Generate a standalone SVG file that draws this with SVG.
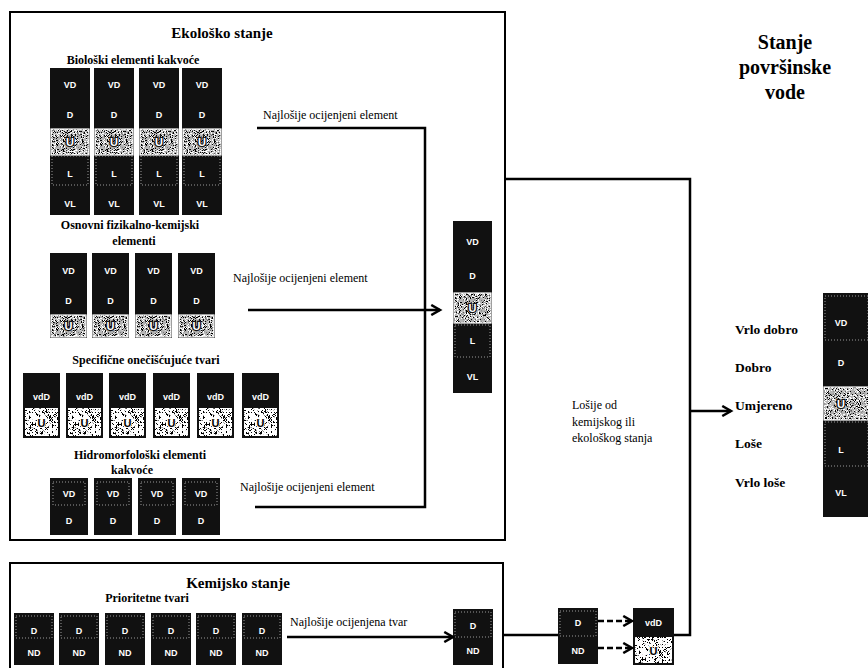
<svg xmlns="http://www.w3.org/2000/svg" width="868" height="668" viewBox="0 0 868 668">
<style>
.col{fill:#111}
.ct{font-family:"Liberation Sans",Arial,sans-serif;font-weight:bold;font-size:9px;fill:#fff;text-anchor:middle}
.ut{font-family:"Liberation Sans",Arial,sans-serif;font-weight:bold;font-size:11px;fill:#fff;stroke:#111;stroke-width:2.5;paint-order:stroke;text-anchor:middle}
.uk{font-family:"Liberation Sans",Arial,sans-serif;font-weight:bold;font-size:11px;fill:#000;stroke:#fff;stroke-width:2;paint-order:stroke;text-anchor:middle}
.h{font-family:"Liberation Serif","Times New Roman",serif;font-weight:bold;text-anchor:middle;fill:#000}
.lbl{font-family:"Liberation Serif","Times New Roman",serif;font-size:12px;fill:#000}
.bl{font-family:"Liberation Serif","Times New Roman",serif;font-weight:bold;font-size:13.5px;fill:#000}
.ln{stroke:#000;stroke-width:2.5;fill:none}
.dl{stroke:#000;stroke-width:2.5;fill:none;stroke-dasharray:6 3}
.box{stroke:#000;stroke-width:2;fill:none}
.gr{fill:#b4b4b4;filter:url(#grain)}
.sq{fill:#fff;filter:url(#squig)}
.ub{fill:none;stroke:#fff;stroke-width:1.2}
.dot{fill:none;stroke:#9a9a9a;stroke-width:1;stroke-dasharray:1 2}
</style>
<defs>
<filter id="grain" x="0" y="0" width="1" height="1">
<feTurbulence type="fractalNoise" baseFrequency="1.1" numOctaves="1" seed="4" result="t"/>
<feColorMatrix in="t" type="matrix" values="0 0 0 0 0 0 0 0 0 0 0 0 0 0 0 -18 0 0 0 8.6" result="d"/>
<feComposite in="d" in2="SourceGraphic" operator="in" result="d2"/>
<feTurbulence type="fractalNoise" baseFrequency="1.1" numOctaves="1" seed="11" result="t2"/>
<feColorMatrix in="t2" type="matrix" values="0 0 0 0 1 0 0 0 0 1 0 0 0 0 1 -18 0 0 0 8.2" result="w"/>
<feComposite in="w" in2="SourceGraphic" operator="in" result="w2"/>
<feMerge><feMergeNode in="SourceGraphic"/><feMergeNode in="d2"/><feMergeNode in="w2"/></feMerge>
</filter>
<filter id="squig" x="0" y="0" width="1" height="1">
<feTurbulence type="turbulence" baseFrequency="0.3" numOctaves="2" seed="7" result="t"/>
<feColorMatrix in="t" type="matrix" values="0 0 0 0 0 0 0 0 0 0 0 0 0 0 0 -30 0 0 0 4" result="d"/>
<feComposite in="d" in2="SourceGraphic" operator="in" result="d2"/>
<feMerge><feMergeNode in="SourceGraphic"/><feMergeNode in="d2"/></feMerge>
</filter>
<marker id="ah" viewBox="0 0 10 10" refX="8" refY="5" markerWidth="5" markerHeight="5" orient="auto" markerUnits="strokeWidth">
<path d="M1,1 L8,5 L1,9" fill="none" stroke="#000" stroke-width="2"/>
</marker>
</defs>
<rect width="868" height="668" fill="#fff"/>

<g id="eco-box">
<rect class="box" x="10" y="12" width="495" height="528"/>
<text class="h" x="222" y="38" font-size="15">Ekološko stanje</text>
<text class="h" x="133" y="64" font-size="12">Biološki elementi kakvoće</text>
<text class="h" x="130" y="229" font-size="12">Osnovni fizikalno-kemijski</text>
<text class="h" x="134" y="245" font-size="12">elementi</text>
<text class="h" x="146" y="364" font-size="12">Specifične onečišćujuće tvari</text>
<text class="h" x="140" y="459" font-size="12">Hidromorfološki elementi</text>
<text class="h" x="132" y="474" font-size="12">kakvoće</text>
</g>

<g id="bio1" transform="translate(50,68)">
<rect class="col" x="0" y="0" width="40" height="147"/>
<rect class="gr" x="1" y="61" width="38" height="26"/><rect class="ub" x="1" y="61" width="38" height="26"/>
<rect class="dot" x="2" y="88" width="36" height="29"/>
<text class="ct" x="20" y="20">VD</text><text class="ct" x="20" y="50">D</text><text class="ut" x="20" y="78">U</text><text class="ct" x="20" y="109">L</text><text class="ct" x="20" y="139">VL</text>
</g>
<g id="bio2" transform="translate(94,68)">
<rect class="col" x="0" y="0" width="40" height="147"/>
<rect class="gr" x="1" y="61" width="38" height="26"/><rect class="ub" x="1" y="61" width="38" height="26"/>
<rect class="dot" x="2" y="88" width="36" height="29"/>
<text class="ct" x="20" y="20">VD</text><text class="ct" x="20" y="50">D</text><text class="ut" x="20" y="78">U</text><text class="ct" x="20" y="109">L</text><text class="ct" x="20" y="139">VL</text>
</g>
<g id="bio3" transform="translate(139,68)">
<rect class="col" x="0" y="0" width="40" height="147"/>
<rect class="gr" x="1" y="61" width="38" height="26"/><rect class="ub" x="1" y="61" width="38" height="26"/>
<rect class="dot" x="2" y="88" width="36" height="29"/>
<text class="ct" x="20" y="20">VD</text><text class="ct" x="20" y="50">D</text><text class="ut" x="20" y="78">U</text><text class="ct" x="20" y="109">L</text><text class="ct" x="20" y="139">VL</text>
</g>
<g id="bio4" transform="translate(182,68)">
<rect class="col" x="0" y="0" width="40" height="147"/>
<rect class="gr" x="1" y="61" width="38" height="26"/><rect class="ub" x="1" y="61" width="38" height="26"/>
<rect class="dot" x="2" y="88" width="36" height="29"/>
<text class="ct" x="20" y="20">VD</text><text class="ct" x="20" y="50">D</text><text class="ut" x="20" y="78">U</text><text class="ct" x="20" y="109">L</text><text class="ct" x="20" y="139">VL</text>
</g>

<g id="phys1" transform="translate(50,253)">
<rect class="col" x="0" y="0" width="37" height="85"/>
<rect class="gr" x="1" y="62" width="35" height="22"/><rect class="ub" x="1" y="62" width="35" height="22"/>
<text class="ct" x="18.5" y="21">VD</text><text class="ct" x="18.5" y="51">D</text><text class="ut" x="18.5" y="77">U</text>
</g>
<g id="phys2" transform="translate(92,253)">
<rect class="col" x="0" y="0" width="37" height="85"/>
<rect class="gr" x="1" y="62" width="35" height="22"/><rect class="ub" x="1" y="62" width="35" height="22"/>
<text class="ct" x="18.5" y="21">VD</text><text class="ct" x="18.5" y="51">D</text><text class="ut" x="18.5" y="77">U</text>
</g>
<g id="phys3" transform="translate(135,253)">
<rect class="col" x="0" y="0" width="37" height="85"/>
<rect class="gr" x="1" y="62" width="35" height="22"/><rect class="ub" x="1" y="62" width="35" height="22"/>
<text class="ct" x="18.5" y="21">VD</text><text class="ct" x="18.5" y="51">D</text><text class="ut" x="18.5" y="77">U</text>
</g>
<g id="phys4" transform="translate(178,253)">
<rect class="col" x="0" y="0" width="37" height="85"/>
<rect class="gr" x="1" y="62" width="35" height="22"/><rect class="ub" x="1" y="62" width="35" height="22"/>
<text class="ct" x="18.5" y="21">VD</text><text class="ct" x="18.5" y="51">D</text><text class="ut" x="18.5" y="77">U</text>
</g>

<g id="spec1" transform="translate(23,373)">
<rect class="col" x="0" y="0" width="37" height="65"/>
<rect class="sq" x="2" y="35" width="33" height="28"/>
<text class="ct" x="18.5" y="27">vdD</text><text class="uk" x="18.5" y="54">U</text>
</g>
<g id="spec2" transform="translate(66,373)">
<rect class="col" x="0" y="0" width="37" height="65"/>
<rect class="sq" x="2" y="35" width="33" height="28"/>
<text class="ct" x="18.5" y="27">vdD</text><text class="uk" x="18.5" y="54">U</text>
</g>
<g id="spec3" transform="translate(109,373)">
<rect class="col" x="0" y="0" width="37" height="65"/>
<rect class="sq" x="2" y="35" width="33" height="28"/>
<text class="ct" x="18.5" y="27">vdD</text><text class="uk" x="18.5" y="54">U</text>
</g>
<g id="spec4" transform="translate(153,373)">
<rect class="col" x="0" y="0" width="37" height="65"/>
<rect class="sq" x="2" y="35" width="33" height="28"/>
<text class="ct" x="18.5" y="27">vdD</text><text class="uk" x="18.5" y="54">U</text>
</g>
<g id="spec5" transform="translate(197,373)">
<rect class="col" x="0" y="0" width="37" height="65"/>
<rect class="sq" x="2" y="35" width="33" height="28"/>
<text class="ct" x="18.5" y="27">vdD</text><text class="uk" x="18.5" y="54">U</text>
</g>
<g id="spec6" transform="translate(242,373)">
<rect class="col" x="0" y="0" width="37" height="65"/>
<rect class="sq" x="2" y="35" width="33" height="28"/>
<text class="ct" x="18.5" y="27">vdD</text><text class="uk" x="18.5" y="54">U</text>
</g>

<g id="hydro1" transform="translate(50,478)">
<rect class="col" x="0" y="0" width="38" height="57"/><rect class="dot" x="3" y="4" width="32" height="23"/>
<text class="ct" x="19" y="19">VD</text><text class="ct" x="19" y="46">D</text>
</g>
<g id="hydro2" transform="translate(94,478)">
<rect class="col" x="0" y="0" width="38" height="57"/><rect class="dot" x="3" y="4" width="32" height="23"/>
<text class="ct" x="19" y="19">VD</text><text class="ct" x="19" y="46">D</text>
</g>
<g id="hydro3" transform="translate(138,478)">
<rect class="col" x="0" y="0" width="38" height="57"/><rect class="dot" x="3" y="4" width="32" height="23"/>
<text class="ct" x="19" y="19">VD</text><text class="ct" x="19" y="46">D</text>
</g>
<g id="hydro4" transform="translate(182,478)">
<rect class="col" x="0" y="0" width="38" height="57"/><rect class="dot" x="3" y="4" width="32" height="23"/>
<text class="ct" x="19" y="19">VD</text><text class="ct" x="19" y="46">D</text>
</g>

<g id="eco-result" transform="translate(453,221)">
<rect class="col" x="0" y="0" width="39" height="172"/>
<rect class="gr" x="1" y="72" width="37" height="30"/><rect class="ub" x="1" y="72" width="37" height="30"/>
<rect class="dot" x="2" y="104" width="35" height="32"/>
<text class="ct" x="19.5" y="24" font-size="10">VD</text><text class="ct" x="19.5" y="58" font-size="10">D</text><text class="ut" x="19.5" y="91">U</text><text class="ct" x="19.5" y="123" font-size="10">L</text><text class="ct" x="19.5" y="159" font-size="10">VL</text>
</g>

<g id="chem-box">
<rect class="box" x="10" y="563" width="493" height="120"/>
<text class="h" x="238" y="588" font-size="15">Kemijsko stanje</text>
<text class="h" x="147" y="602" font-size="12">Prioritetne tvari</text>
</g>

<g id="chem1" transform="translate(14,613)">
<rect class="col" x="0" y="0" width="40" height="52"/><rect class="dot" x="2" y="3" width="36" height="22"/>
<text class="ct" x="20" y="21">D</text><text class="ct" x="20" y="43">ND</text>
</g>
<g id="chem2" transform="translate(59,613)">
<rect class="col" x="0" y="0" width="40" height="52"/><rect class="dot" x="2" y="3" width="36" height="22"/>
<text class="ct" x="20" y="21">D</text><text class="ct" x="20" y="43">ND</text>
</g>
<g id="chem3" transform="translate(105,613)">
<rect class="col" x="0" y="0" width="40" height="52"/><rect class="dot" x="2" y="3" width="36" height="22"/>
<text class="ct" x="20" y="21">D</text><text class="ct" x="20" y="43">ND</text>
</g>
<g id="chem4" transform="translate(151,613)">
<rect class="col" x="0" y="0" width="40" height="52"/><rect class="dot" x="2" y="3" width="36" height="22"/>
<text class="ct" x="20" y="21">D</text><text class="ct" x="20" y="43">ND</text>
</g>
<g id="chem5" transform="translate(196,613)">
<rect class="col" x="0" y="0" width="40" height="52"/><rect class="dot" x="2" y="3" width="36" height="22"/>
<text class="ct" x="20" y="21">D</text><text class="ct" x="20" y="43">ND</text>
</g>
<g id="chem6" transform="translate(242,613)">
<rect class="col" x="0" y="0" width="40" height="52"/><rect class="dot" x="2" y="3" width="36" height="22"/>
<text class="ct" x="20" y="21">D</text><text class="ct" x="20" y="43">ND</text>
</g>

<g id="chem-result" transform="translate(453,609)">
<rect class="col" x="0" y="0" width="40" height="56"/><rect class="dot" x="2" y="3" width="36" height="25"/>
<text class="ct" x="20" y="20" font-size="10">D</text><text class="ct" x="20" y="45" font-size="10">ND</text>
</g>

<g id="chem-compare" transform="translate(558,608)">
<rect class="col" x="0" y="0" width="40" height="56"/><rect class="dot" x="2" y="3" width="36" height="25"/>
<text class="ct" x="20" y="18" font-size="10">D</text><text class="ct" x="20" y="46" font-size="10">ND</text>
</g>

<g id="chem-mapped" transform="translate(633,608)">
<rect class="col" x="0" y="0" width="41" height="57"/>
<rect class="sq" x="2" y="29" width="37" height="26"/>
<text class="ct" x="20.5" y="18">vdD</text><text class="uk" x="20.5" y="47">U</text>
</g>

<g id="status-title">
<text class="h" x="785" y="49" font-size="20">Stanje</text>
<text class="h" x="785" y="74" font-size="20">površinske</text>
<text class="h" x="785" y="99" font-size="20">vode</text>
</g>

<g id="note">
<text class="lbl" x="572" y="409" font-size="11.5">Lošije od</text>
<text class="lbl" x="572" y="426" font-size="11.5">kemijskog ili</text>
<text class="lbl" x="572" y="442" font-size="11.5">ekološkog stanja</text>
</g>

<g id="class-labels">
<text class="bl" x="735" y="334">Vrlo dobro</text>
<text class="bl" x="735" y="372">Dobro</text>
<text class="bl" x="735" y="410">Umjereno</text>
<text class="bl" x="735" y="448">Loše</text>
<text class="bl" x="735" y="487">Vrlo loše</text>
</g>

<g id="final-status" transform="translate(823,293)">
<rect class="col" x="0" y="0" width="47" height="224"/>
<rect class="dot" x="2" y="3" width="43" height="44"/>
<rect class="gr" x="1" y="94" width="45" height="33"/><rect class="ub" x="1" y="94" width="45" height="33"/>
<rect class="dot" x="2" y="129" width="43" height="44"/>
<text class="ct" x="18" y="33" font-size="10">VD</text><text class="ct" x="18" y="73" font-size="10">D</text><text class="ut" x="18" y="115">U</text><text class="ct" x="18" y="160" font-size="10">L</text><text class="ct" x="18" y="203" font-size="10">VL</text>
</g>

<g id="connectors">
<path class="ln" d="M257,128 H425 V507 H255"/>
<path class="ln" d="M248,310 H440" marker-end="url(#ah)"/>
<path class="ln" d="M505,179 H690 V635 H674"/>
<path class="ln" d="M690,411 H731" marker-end="url(#ah)"/>
<path class="ln" d="M287,637 H453" marker-end="url(#ah)"/>
<path class="ln" d="M503,635 H558"/>
<path class="dl" d="M598,621 H632" marker-end="url(#ah)"/>
<path class="dl" d="M598,648 H632" marker-end="url(#ah)"/>
<text class="lbl" x="263" y="119">Najlošije ocijenjeni element</text>
<text class="lbl" x="233" y="282">Najlošije ocijenjeni element</text>
<text class="lbl" x="240" y="491">Najlošije ocijenjeni element</text>
<text class="lbl" x="290" y="626">Najlošije ocijenjena tvar</text>
</g>
</svg>
